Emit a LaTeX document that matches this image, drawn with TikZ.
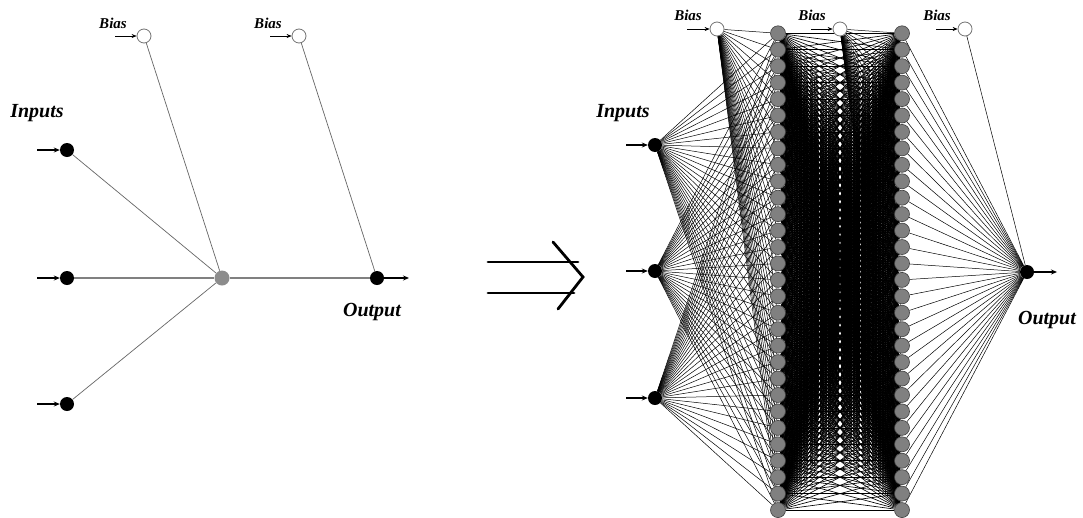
\documentclass[tikz,border=0pt]{standalone}
\usepackage{fontspec}
\setmainfont{Liberation Serif}
\usetikzlibrary{arrows.meta}
\pgfdeclarelayer{bg}
\pgfdeclarelayer{paper}
\pgfsetlayers{paper,bg,main}
\begin{document}
\begin{tikzpicture}[x=1pt,y=-1pt,
  inp/.style={circle,fill=black,inner sep=0pt,minimum size=14pt},
  biasnode/.style={circle,draw=black!55,fill=white,inner sep=0pt,minimum size=14pt,line width=0.8pt},
  hid/.style={circle,fill=black!50,draw=black!75,inner sep=0pt,minimum size=15pt,line width=0.6pt},
  lhid/.style={circle,fill=black!45,inner sep=0pt,minimum size=15pt},
  lbl/.style={font=\fontsize{20}{22}\selectfont\bfseries\itshape,inner sep=0pt},
  biaslbl/.style={font=\fontsize{15}{17}\selectfont\bfseries\itshape,inner sep=0pt},
  inarrow/.style={-{Stealth[length=6pt,width=5pt]},line width=1.2pt},
  biasarrow/.style={-{Stealth[length=5pt,width=4pt]},line width=0.6pt},
  lwire/.style={black!60,line width=0.7pt},
  lmain/.style={black!50,line width=1.6pt},
  wire/.style={black,line width=0.5pt},
  densewire/.style={black,line width=0.65pt},
  implies/.style={line width=2.8pt,line cap=round,line join=miter}
]
\begin{pgfonlayer}{paper}
\fill[white] (0,0) rectangle (1083,517);
\end{pgfonlayer}
\useasboundingbox (0,0) rectangle (1083,517);

% ---------- left diagram ----------
\node[inp] (la1) at (67,150) {};
\node[inp] (la2) at (67,278) {};
\node[inp] (la3) at (67,404) {};
\node[lhid] (lh) at (222,278) {};
\node[inp] (lo) at (377,278) {};
\node[biasnode] (lb1) at (144,36) {};
\node[biasnode] (lb2) at (299,36) {};
\node[biaslbl] (lbt1) at (113,23) {Bias};
\node[biaslbl] (lbt2) at (268,23) {Bias};
\node[lbl] (lin) at (37,113) {Inputs};
\node[lbl] (lout) at (372,312) {Output};
\coordinate (la1s) at (37,150);
\coordinate (la2s) at (37,278);
\coordinate (la3s) at (37,404);
\coordinate (lb1s) at (115,36);
\coordinate (lb2s) at (270,36);
\coordinate (loe) at (409,278);
\draw[inarrow] (la1s) -- (la1.west);
\draw[inarrow] (la2s) -- (la2.west);
\draw[inarrow] (la3s) -- (la3.west);
\draw[biasarrow] (lb1s) -- (lb1.west);
\draw[biasarrow] (lb2s) -- (lb2.west);
\draw[inarrow] (lo.east) -- (loe);
\begin{pgfonlayer}{bg}
\draw[lwire] (la1) -- (lh);
\draw[lwire] (la3) -- (lh);
\draw[lwire] (lb1) -- (lh);
\draw[lwire] (lb2) -- (lo);
\draw[lmain] (la2) -- (lh);
\draw[lmain] (lh) -- (lo);
\end{pgfonlayer}

% ---------- implies arrow ----------
\coordinate (i1a) at (488,262);
\coordinate (i1b) at (578,262);
\coordinate (i2a) at (488,293);
\coordinate (i2b) at (574,293);
\coordinate (c1) at (553,242);
\coordinate (c2) at (583,277);
\coordinate (c3) at (558,309);
\draw[implies] (i1a) -- (i1b);
\draw[implies] (i2a) -- (i2b);
\draw[implies] (c1) -- (c2) -- (c3);

% ---------- right network ----------
\node[inp] (ri1) at (655,145) {};
\node[inp] (ri2) at (655,271) {};
\node[inp] (ri3) at (655,398) {};
\node[inp] (ro) at (1027,272) {};
\node[biasnode] (rb1) at (717,29) {};
\node[biasnode] (rb2) at (840,29) {};
\node[biasnode] (rb3) at (965,29) {};
\node[biaslbl] (rbt1) at (688,15) {Bias};
\node[biaslbl] (rbt2) at (812,15) {Bias};
\node[biaslbl] (rbt3) at (937,15) {Bias};
\node[lbl] (rin) at (623,113) {Inputs};
\node[lbl] (rout) at (1047,320) {Output};
\coordinate (ri1s) at (626,145);
\coordinate (ri2s) at (626,271);
\coordinate (ri3s) at (626,398);
\coordinate (rb1s) at (687,29);
\coordinate (rb2s) at (811,29);
\coordinate (rb3s) at (936,29);
\coordinate (roe) at (1057,272);
\draw[inarrow] (ri1s) -- (ri1.west);
\draw[inarrow] (ri2s) -- (ri2.west);
\draw[inarrow] (ri3s) -- (ri3.west);
\draw[biasarrow] (rb1s) -- (rb1.west);
\draw[biasarrow] (rb2s) -- (rb2.west);
\draw[biasarrow] (rb3s) -- (rb3.west);
\draw[inarrow] (ro.east) -- (roe);

\foreach \i in {0,...,29}{
  \node[hid] (ha\i) at (778,{33.3+16.44*\i}) {};
  \node[hid] (hb\i) at (902,{33.3+16.44*\i}) {};
}
\begin{pgfonlayer}{bg}
\foreach \i in {0,...,29}{
  \draw[wire] (ri1) -- (ha\i);
  \draw[wire] (ri2) -- (ha\i);
  \draw[wire] (ri3) -- (ha\i);
  \draw[wire] (rb1) -- (ha\i);
  \draw[wire] (rb2) -- (hb\i);
  \draw[wire] (hb\i) -- (ro);
  \foreach \j in {0,...,29}{
    \draw[densewire] (ha\i) -- (hb\j);
  }
}
\draw[wire] (rb3) -- (ro);
\end{pgfonlayer}
\end{tikzpicture}
\end{document}
